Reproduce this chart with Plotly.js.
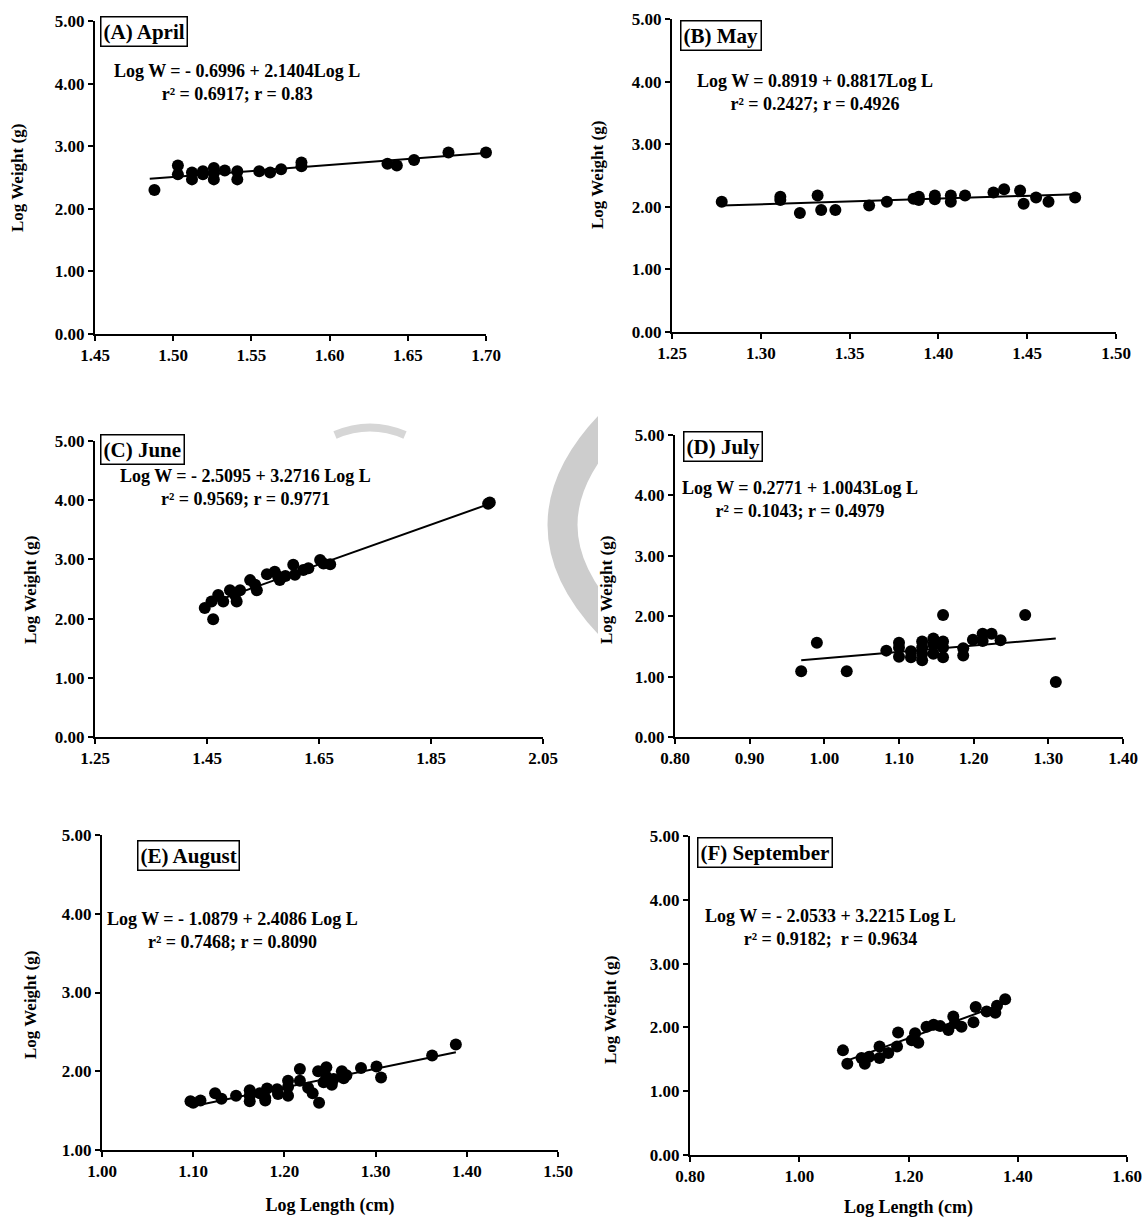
<!DOCTYPE html>
<html>
<head>
<meta charset="utf-8">
<script src="https://cdn.plot.ly/plotly-3.0.1.min.js"></script>
<style>html,body{margin:0;padding:0;background:#fff}#chart{width:1142px;height:1218px}</style>
</head>
<body>
<div id="chart"></div>
<script>
// ---------- DATA ----------
const aprilX = [1.488,1.503,1.503,1.512,1.512,1.519,1.519,1.526,1.526,1.526,1.533,1.541,1.541,1.555,1.562,1.569,1.582,1.582,1.637,1.643,1.654,1.676,1.700];
const aprilY = [2.30,2.69,2.55,2.58,2.47,2.60,2.55,2.65,2.57,2.47,2.61,2.60,2.47,2.60,2.58,2.63,2.74,2.68,2.72,2.69,2.78,2.90,2.90];
const aprilFitX = [1.485,1.700];
const aprilFitY = [2.48,2.89];

const mayX = [1.278,1.311,1.311,1.322,1.332,1.334,1.342,1.361,1.371,1.386,1.389,1.389,1.398,1.398,1.407,1.407,1.415,1.431,1.437,1.446,1.448,1.455,1.462,1.477];
const mayY = [2.08,2.16,2.11,1.90,2.18,1.95,1.95,2.02,2.08,2.13,2.16,2.11,2.18,2.12,2.18,2.08,2.18,2.23,2.28,2.26,2.05,2.15,2.08,2.15];
const mayFitX = [1.278,1.477];
const mayFitY = [2.02,2.20];

const juneX = [1.446,1.461,1.458,1.470,1.479,1.491,1.503,1.500,1.509,1.527,1.536,1.539,1.557,1.571,1.577,1.580,1.590,1.604,1.607,1.622,1.631,1.652,1.658,1.670,1.952,1.955];
const juneY = [2.18,1.99,2.29,2.40,2.29,2.48,2.29,2.40,2.48,2.65,2.57,2.48,2.75,2.79,2.71,2.65,2.72,2.91,2.74,2.82,2.85,2.99,2.93,2.92,3.94,3.96];
const juneFitX = [1.446,1.958];
const juneFitY = [2.23,3.95];

const julyX = [0.969,0.990,1.030,1.083,1.100,1.100,1.100,1.116,1.116,1.131,1.131,1.131,1.131,1.146,1.146,1.146,1.159,1.159,1.159,1.159,1.186,1.186,1.199,1.212,1.212,1.224,1.236,1.269,1.310];
const julyY = [1.09,1.56,1.09,1.43,1.56,1.48,1.33,1.42,1.32,1.58,1.48,1.38,1.27,1.63,1.53,1.38,2.02,1.58,1.48,1.32,1.47,1.35,1.61,1.71,1.59,1.71,1.60,2.02,0.91];
const julyFitX = [0.969,1.310];
const julyFitY = [1.27,1.63];

const augX = [1.097,1.100,1.108,1.124,1.131,1.147,1.162,1.162,1.162,1.173,1.179,1.181,1.179,1.192,1.193,1.204,1.204,1.204,1.217,1.217,1.226,1.231,1.238,1.237,1.246,1.246,1.243,1.252,1.254,1.263,1.265,1.268,1.284,1.301,1.306,1.362,1.388];
const augY = [1.62,1.60,1.63,1.72,1.65,1.69,1.76,1.62,1.69,1.72,1.66,1.78,1.63,1.77,1.71,1.88,1.80,1.69,2.03,1.88,1.79,1.72,1.60,2.00,2.05,1.93,1.86,1.83,1.90,2.00,1.91,1.95,2.04,2.06,1.92,2.20,2.34];
const augFitX = [1.097,1.388];
const augFitY = [1.55,2.24];

const sepX = [1.080,1.088,1.120,1.114,1.128,1.147,1.147,1.163,1.179,1.181,1.206,1.212,1.218,1.233,1.246,1.258,1.273,1.282,1.285,1.297,1.319,1.323,1.343,1.359,1.362,1.377];
const sepY = [1.64,1.43,1.43,1.52,1.54,1.70,1.52,1.60,1.70,1.92,1.80,1.91,1.76,2.01,2.04,2.02,1.96,2.17,2.07,2.01,2.08,2.32,2.25,2.23,2.34,2.44];
const sepFitX = [1.081,1.377];
const sepFitY = [1.46,2.38];

const panelLabels = ["(A) April","(B) May","(C) June","(D) July","(E) August","(F) September"];
const equations = [
  ["Log W = - 0.6996 + 2.1404Log L","r² = 0.6917; r = 0.83"],
  ["Log W = 0.8919 + 0.8817Log L","r² = 0.2427; r = 0.4926"],
  ["Log W = - 2.5095 + 3.2716 Log L","r² = 0.9569; r = 0.9771"],
  ["Log W = 0.2771 + 1.0043Log L","r² = 0.1043; r = 0.4979"],
  ["Log W = - 1.0879 + 2.4086 Log L","r² = 0.7468; r = 0.8090"],
  ["Log W = - 2.0533 + 3.2215 Log L","r² = 0.9182;  r = 0.9634"]
];
const yTitle = "Log Weight (g)";
const xTitle = "Log Length (cm)";

// ---------- LAYOUT ----------
const W = 1142, H = 1218;
const px = x => x / W;
const py = y => 1 - y / H;
const FONT = "Liberation Serif";

const series = [
  {x: aprilX, y: aprilY, fx: aprilFitX, fy: aprilFitY},
  {x: mayX, y: mayY, fx: mayFitX, fy: mayFitY},
  {x: juneX, y: juneY, fx: juneFitX, fy: juneFitY},
  {x: julyX, y: julyY, fx: julyFitX, fy: julyFitY},
  {x: augX, y: augY, fx: augFitX, fy: augFitY},
  {x: sepX, y: sepY, fx: sepFitX, fy: sepFitY}
];

// pixel boxes [left, right, top, bottom]
const boxes = [
  [95, 486, 21, 334],
  [672, 1116, 19, 332],
  [95, 543, 441, 737],
  [675, 1123, 435, 737],
  [102, 558, 835, 1150],
  [690, 1127, 836, 1155]
];
const xRanges = [[1.45,1.70],[1.25,1.50],[1.25,2.05],[0.80,1.40],[1.00,1.50],[0.80,1.60]];
const xDt = [0.05,0.05,0.2,0.1,0.1,0.2];
const yRanges = [[0,5],[0,5],[0,5],[0,5],[1,5],[0,5]];
const yTitlePos = [[18,178],[597,175],[30,590],[606,590],[30,1005],[610,1010]];
const labelPos = [[100,16],[680,20],[100,434],[683,431],[137,840],[697,837]];
const eqPos = [[237,83],[815,93],[245,488],[800,500],[232,930],[830,927]];

const traces = [];
const layout = {
  width: W, height: H,
  margin: {l:0, r:0, t:0, b:0},
  paper_bgcolor: "#fff", plot_bgcolor: "rgba(0,0,0,0)",
  showlegend: false,
  font: {family: FONT, color: "#000", size: 15},
  annotations: [],
  shapes: [
    {type:"path", xref:"paper", yref:"paper", layer:"below",
     path: `M ${px(610)} ${py(425)} Q ${px(515)} ${py(525)} ${px(610)} ${py(625)}`,
     line:{color:"#cdcdcd", width:30}},
    {type:"rect", xref:"paper", yref:"paper", layer:"below",
     x0: px(598), x1: px(640), y0: py(640), y1: py(410),
     fillcolor:"#fff", line:{width:0}},
    {type:"path", xref:"paper", yref:"paper", layer:"below",
     path: `M ${px(335)} ${py(435)} Q ${px(370)} ${py(420)} ${px(405)} ${py(435)}`,
     line:{color:"#d6d6d6", width:8}}
  ]
};

series.forEach((s, i) => {
  const n = i + 1;
  const xa = n === 1 ? "x" : "x" + n;
  const ya = n === 1 ? "y" : "y" + n;
  traces.push({x: s.fx, y: s.fy, xaxis: xa, yaxis: ya, mode: "lines", type: "scatter",
    line: {color: "#000", width: 2}, hoverinfo: "skip", cliponaxis: false});
  traces.push({x: s.x, y: s.y, xaxis: xa, yaxis: ya, mode: "markers", type: "scatter",
    marker: {color: "#000", size: 12}, cliponaxis: false});
  const b = boxes[i];
  const tf = {family: FONT, size: 17, color: "#000", weight: "bold"};
  const axX = {
    domain: [px(b[0]), px(b[1])], range: xRanges[i], dtick: xDt[i], tick0: xRanges[i][0],
    tickformat: ".2f", showgrid: false, zeroline: false, showline: true, linecolor: "#000",
    linewidth: 2, ticks: "outside", ticklen: 5, tickwidth: 2, tickcolor: "#000",
    tickfont: tf, anchor: ya, fixedrange: true
  };
  const axY = {
    domain: [py(b[3]), py(b[2])], range: yRanges[i], dtick: 1, tick0: 0,
    tickformat: ".2f", showgrid: false, zeroline: false, showline: true, linecolor: "#000",
    linewidth: 2, ticks: "outside", ticklen: 5, tickwidth: 2, tickcolor: "#000",
    tickfont: tf, anchor: xa, fixedrange: true
  };
  if (i >= 4) {
    axX.title = {text: xTitle, font: {family: FONT, size: 18, color: "#000", weight: "bold"}, standoff: 18};
  }
  layout[n === 1 ? "xaxis" : "xaxis" + n] = axX;
  layout[n === 1 ? "yaxis" : "yaxis" + n] = axY;

  layout.annotations.push({
    xref: "paper", yref: "paper", x: px(yTitlePos[i][0]), y: py(yTitlePos[i][1]),
    text: "<b>" + yTitle + "</b>", textangle: -90, showarrow: false,
    font: {family: FONT, size: 17, color: "#000"}, xanchor: "center", yanchor: "middle"
  });
  layout.annotations.push({
    xref: "paper", yref: "paper", x: px(labelPos[i][0]), y: py(labelPos[i][1]),
    text: "<b>" + panelLabels[i] + "</b>", showarrow: false, xanchor: "left", yanchor: "top",
    font: {family: FONT, size: 21, color: "#000"}, bordercolor: "#000", borderwidth: 1.5,
    borderpad: 2, bgcolor: "#fff"
  });
  layout.annotations.push({
    xref: "paper", yref: "paper", x: px(eqPos[i][0]), y: py(eqPos[i][1]),
    text: "<b>" + equations[i][0] + "</b><br><b>" + equations[i][1] + "</b>",
    showarrow: false, xanchor: "center", yanchor: "middle", align: "center",
    font: {family: FONT, size: 18, color: "#000"}
  });
});

Plotly.newPlot("chart", traces, layout, {displayModeBar: false, staticPlot: true});
</script>
</body>
</html>
